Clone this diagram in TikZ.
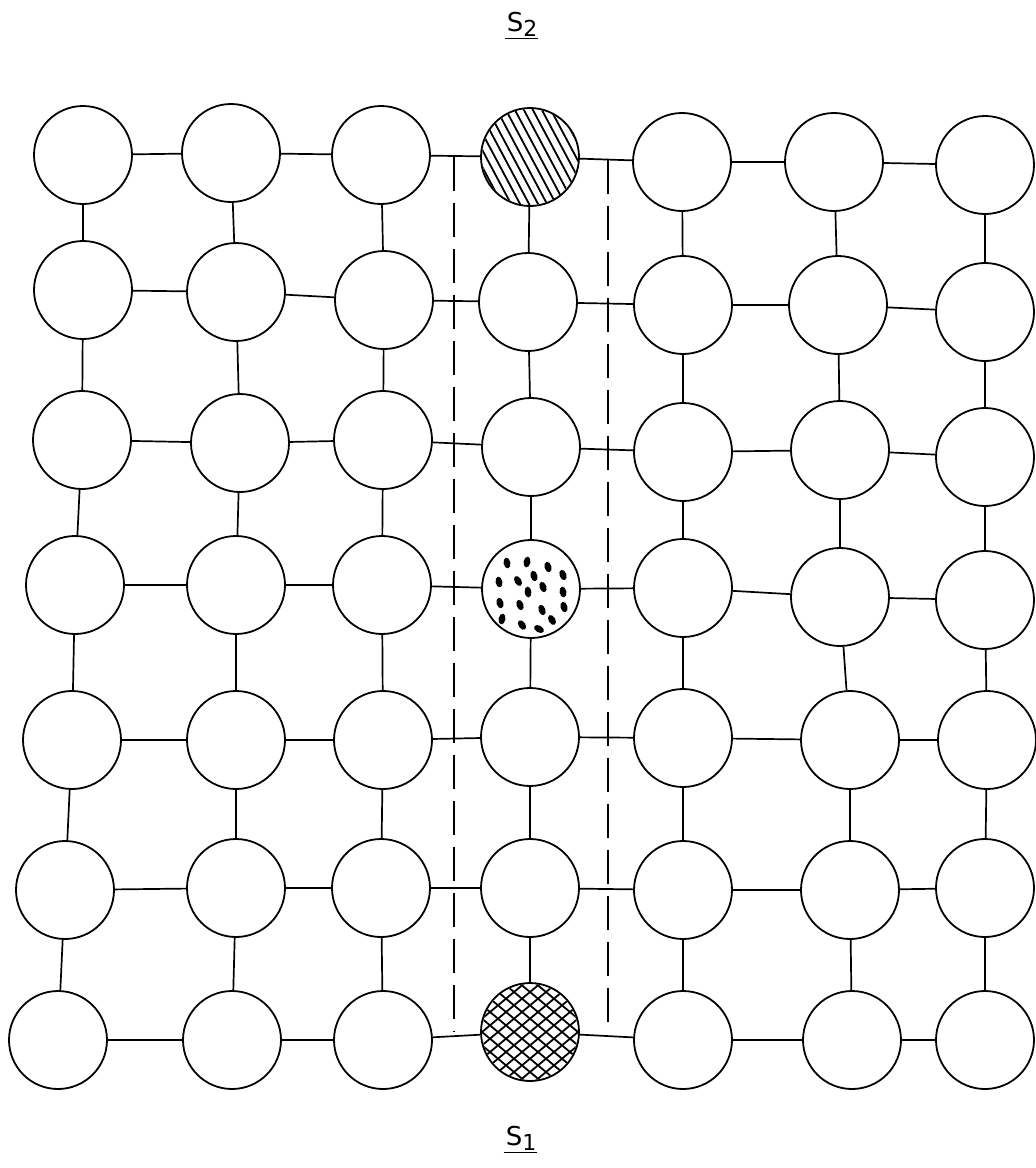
\documentclass[tikz,border=0pt]{standalone}
\usepackage{fontspec}
\setsansfont{DejaVu Sans}
\newcommand{\lowsub}[1]{\raisebox{-5pt}{\fontsize{22}{26}\selectfont #1}}
\begin{document}
\begin{tikzpicture}[x=1pt,y=-1pt,
  cell/.style={circle,draw,line width=1.8pt,minimum size=98pt,inner sep=0pt},
  link/.style={line width=1.7pt},
  sep/.style={line width=1.8pt,dash pattern=on 34pt off 12pt},
  hatch/.style={line width=1.8pt},
  lbl/.style={font=\sffamily\fontsize{26}{30}\selectfont,inner sep=0pt}]
\useasboundingbox (0,0) rectangle (1036,1168);
% circles
\foreach \r/\c/\x/\y in {
 1/1/83/155, 1/2/231/153, 1/3/381/155, 1/4/530/157, 1/5/682/162, 1/6/834/162, 1/7/985/165,
 2/1/83/290, 2/2/236/292, 2/3/384/300, 2/4/528/302, 2/5/683/305, 2/6/838/305, 2/7/985/312,
 3/1/82/440, 3/2/240/443, 3/3/383/440, 3/4/531/447, 3/5/683/452, 3/6/840/450, 3/7/985/457,
 4/1/75/585, 4/2/236/585, 4/3/382/585, 4/4/531/589, 4/5/683/588, 4/6/840/597, 4/7/985/600,
 5/1/72/740, 5/2/236/740, 5/3/383/740, 5/4/530/737, 5/5/683/738, 5/6/850/740, 5/7/987/740,
 6/1/65/890, 6/2/236/888, 6/3/381/888, 6/4/530/888, 6/5/683/890, 6/6/850/890, 6/7/985/888,
 7/1/58/1040, 7/2/232/1040, 7/3/383/1040, 7/4/530/1032, 7/5/683/1040, 7/6/852/1040, 7/7/985/1040}
  \node[cell] (n\r\c) at (\x,\y) {};
% horizontal and vertical links
\foreach \r in {1,...,7}
  \foreach \a/\b in {1/2,2/3,3/4,4/5,5/6,6/7}
    \draw[link] (n\r\a) -- (n\r\b);
\foreach \c in {1,...,7}
  \foreach \a/\b in {1/2,2/3,3/4,4/5,5/6,6/7}
    \draw[link] (n\a\c) -- (n\b\c);
% dashed separators
\coordinate (dlt) at (454,157);
\coordinate (dlb) at (454,1032);
\coordinate (drt) at (608,160);
\coordinate (drb) at (608,1032);
\draw[sep] (dlt) -- (dlb);
\draw[sep] (drt) -- (drb);
% hatched circle (top)
\begin{scope}[shift={(n14.center)}]
  \clip (0,0) circle (48);
  \foreach \k in {-80,-71,...,80}
    \draw[hatch] (\k-32,-60) -- (\k+32,60);
\end{scope}
% cross-hatched circle (bottom)
\begin{scope}[shift={(n74.center)}]
  \clip (0,0) circle (48);
  \foreach \k in {-160,-144,...,160} {
    \draw[hatch] (\k-72,-60) -- (\k+72,60);
    \draw[hatch] (\k+72,-60) -- (\k-72,60);
  }
\end{scope}
% dotted circle (middle)
\foreach \x/\y/\a in {
 507/563/10, 527/562/-10, 548/567/15, 563/575/20,
 499/582/10, 518/581/30, 534/576/15, 543/587/20, 528/592/5, 563/592/10,
 500/603/15, 520/605/20, 542/610/20, 564/607/15,
 502/619/-10, 522/625/35, 552/620/30, 539/629/60}
  \fill[rotate around={\a:(\x,\y)}] (\x,\y) ellipse (3.4 and 5.4);
% labels
\node[lbl] (s2) at (522,24) {S\lowsub{2}};
\draw[line width=1.4pt] ([xshift=-2pt,yshift=-2pt]s2.south west) -- ([xshift=1pt,yshift=-2pt]s2.south east);
\node[lbl] (s1) at (521,1138) {S\lowsub{1}};
\draw[line width=1.4pt] ([xshift=-2pt,yshift=-2pt]s1.south west) -- ([xshift=1pt,yshift=-2pt]s1.south east);
\end{tikzpicture}
\end{document}
